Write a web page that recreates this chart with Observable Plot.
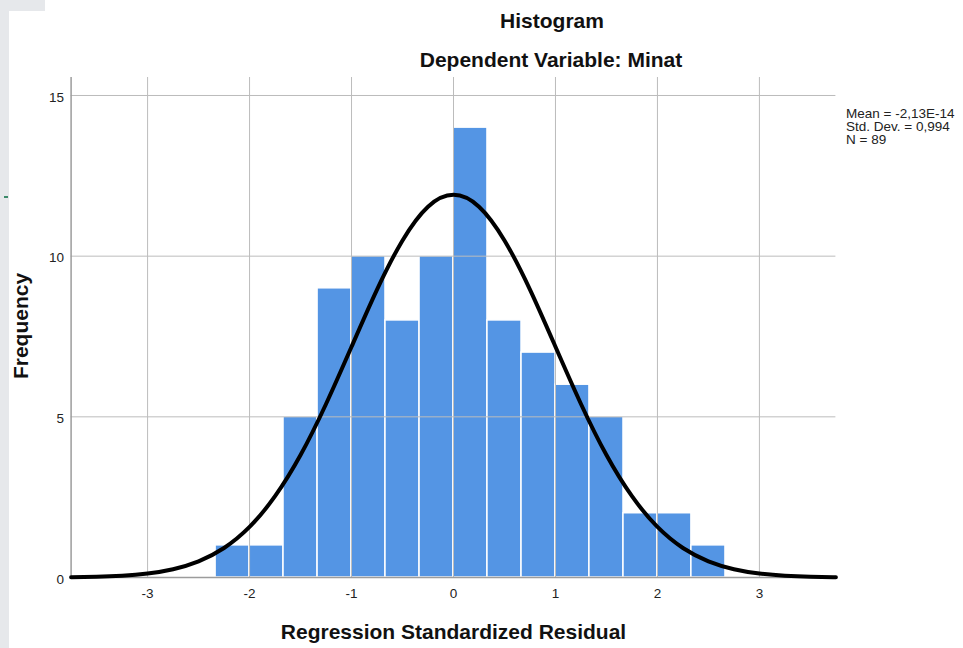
<!DOCTYPE html>
<html>
<head>
<meta charset="utf-8">
<script src="https://cdn.jsdelivr.net/npm/d3@7"></script>
<script src="https://cdn.jsdelivr.net/npm/@observablehq/plot@0.6"></script>
<style>
  html, body { margin: 0; padding: 0; background: #fff; }
  #wrap { position: relative; width: 963px; height: 648px; background: #fff; overflow: hidden; }
  .deco { position: absolute; }
  #chart { position: absolute; left: 0; top: 0; }
</style>
</head>
<body>
<div id="wrap">
  <div class="deco" style="left:0;top:0;width:9px;height:648px;background:#e6e8eb;"></div>
  <div class="deco" style="left:0;top:0;width:45px;height:11px;background:#e6e8eb;"></div>
  <div class="deco" style="left:4px;top:196px;width:4px;height:2px;background:#3c8a6a;"></div>
  <div id="chart"></div>
</div>
<script>
// Histogram bins (left/right edges), counts
const binLeft  = [-2.333, -2.0, -1.667, -1.333, -1.0, -0.667, -0.333, 0.0, 0.333, 0.667, 1.0, 1.333, 1.667, 2.0, 2.333];
const binRight = [-2.0, -1.667, -1.333, -1.0, -0.667, -0.333, 0.0, 0.333, 0.667, 1.0, 1.333, 1.667, 2.0, 2.333, 2.667];
const counts   = [1, 1, 5, 9, 10, 8, 10, 14, 8, 7, 6, 5, 2, 2, 1];

// Normal curve
const curveX = [-3.75, -3.5, -3.25, -3.0, -2.75, -2.5, -2.25, -2.0, -1.75, -1.5, -1.25, -1.0, -0.75, -0.5, -0.25, 0.0,
                 0.25, 0.5, 0.75, 1.0, 1.25, 1.5, 1.75, 2.0, 2.25, 2.5, 2.75, 3.0, 3.25, 3.5, 3.75];
const curveY = [0.01, 0.024, 0.057, 0.125, 0.259, 0.504, 0.919, 1.574, 2.53, 3.81, 5.40, 7.18, 8.96, 10.49, 11.54, 11.91,
                11.54, 10.49, 8.96, 7.18, 5.40, 3.81, 2.53, 1.574, 0.919, 0.504, 0.259, 0.125, 0.057, 0.024, 0.01];

const xTicks = [-3, -2, -1, 0, 1, 2, 3];
const yTicks = [0, 5, 10, 15];
const yGrid = [5, 10, 15];

const titleText = "Histogram";
const subtitleText = "Dependent Variable: Minat";
const xLabel = "Regression Standardized Residual";
const yLabel = "Frequency";
const statsLines = ["Mean = -2,13E-14", "Std. Dev. = 0,994", "N = 89"];

const bins = binLeft.map((x0, i) => ({x0, x1: binRight[i], count: counts[i]}));
const curve = curveX.map((x, i) => ({x, y: curveY[i]}));

const xDomain = [-3.75, 3.75];
const yDomain = [0, 15.56];

const svg = Plot.plot({
  width: 963,
  height: 648,
  marginLeft: 70.6,
  marginRight: 127.6,
  marginTop: 77,
  marginBottom: 71,
  x: {domain: xDomain, label: null},
  y: {domain: yDomain, label: null},
  style: {fontFamily: "'Liberation Sans', Arial, sans-serif", fontSize: "13.5px", color: "#222", background: "transparent"},
  marks: [
    Plot.rect(bins, {x1: "x0", x2: "x1", y1: 0, y2: "count", fill: "#5495e4", stroke: "#ffffff", strokeWidth: 1.5}),
    Plot.gridX(xTicks, {stroke: "#bcbcbc", strokeOpacity: 1, strokeWidth: 1}),
    Plot.gridY(yGrid, {stroke: "#bcbcbc", strokeOpacity: 1, strokeWidth: 1}),
    Plot.ruleY([0], {stroke: "#9c9c9c", strokeWidth: 1.5}),
    Plot.ruleX([xDomain[0]], {y1: yDomain[0], y2: yDomain[1], stroke: "#9c9c9c", strokeWidth: 1.5}),
    Plot.line(curve, {x: "x", y: "y", stroke: "#000", strokeWidth: 4, curve: "natural"}),
    Plot.axisX(xTicks, {tickSize: 0, tickPadding: 11, tickFormat: d => String(d), label: null, fill: "#222"}),
    Plot.axisY(yTicks, {tickSize: 0, tickPadding: 7, dy: 2, tickFormat: d => String(d), label: null, fill: "#222"})
  ]
});

const s = d3.select(svg);
const ff = "'Liberation Sans', Arial, sans-serif";
s.append("text").attr("x", 552).attr("y", 28).attr("text-anchor", "middle")
  .attr("font-family", ff).attr("font-weight", "bold").attr("font-size", 21).attr("fill", "#111").text(titleText);
s.append("text").attr("x", 551).attr("y", 67).attr("text-anchor", "middle")
  .attr("font-family", ff).attr("font-weight", "bold").attr("font-size", 21).attr("fill", "#111").text(subtitleText);
s.append("text").attr("x", 453.5).attr("y", 639).attr("text-anchor", "middle")
  .attr("font-family", ff).attr("font-weight", "bold").attr("font-size", 21).attr("fill", "#111").text(xLabel);
s.append("text").attr("transform", "translate(28,326) rotate(-90)").attr("text-anchor", "middle")
  .attr("font-family", ff).attr("font-weight", "bold").attr("font-size", 21).attr("fill", "#111").text(yLabel);
statsLines.forEach((t, i) => {
  s.append("text").attr("x", 846).attr("y", 117.7 + i * 13.3).attr("text-anchor", "start")
    .attr("font-family", ff).attr("font-size", 13.5).attr("fill", "#222").text(t);
});

document.getElementById("chart").appendChild(svg);
</script>
</body>
</html>
